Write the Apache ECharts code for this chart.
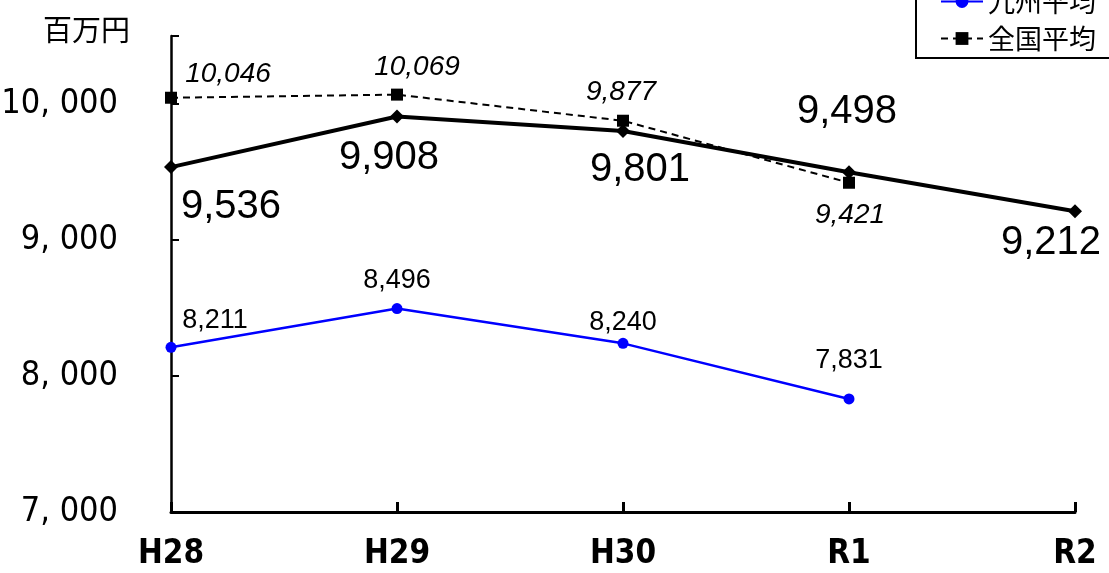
<!DOCTYPE html>
<html>
<head>
<meta charset="utf-8">
<script src="https://cdn.jsdelivr.net/npm/echarts@6/dist/echarts.min.js"></script>
<style>
  html, body { margin: 0; padding: 0; background: #fff; }
  #main { width: 1109px; height: 573px; }
</style>
</head>
<body>
<div id="main"></div>
<script>
// データ
var categories = ["H28", "H29", "H30", "R1", "R2"];
var cityValues = [9536, 9908, 9801, 9498, 9212];      // 太線（凡例は上で切れている）
var kyushuValues = [8211, 8496, 8240, 7831, null];    // 九州平均
var zenkokuValues = [10046, 10069, 9877, 9421, null]; // 全国平均
var yTicks = [7000, 8000, 9000, 10000];

// ラベルの位置（点からのずれ）
var cityOffsets = [[60, 40], [-8, 41], [17, 39], [-2, -60], [-24, 32]];
var kyushuOffsets = [[44, -27], [0, -28], [0, -21], [0, -38]];
var zenkokuOffsets = [[57, -24], [20, -27], [-2, -29], [1, 32]];

var CJK = '"Noto Sans CJK JP", sans-serif';
var NARROW = '"DejaVu Sans Condensed", "Noto Sans CJK JP", sans-serif';
var ARIAL = '"Liberation Sans", Arial, sans-serif';

function fmt(v) {
  return v.toLocaleString('en-US');
}

function withLabels(values, offsets) {
  return values.map(function (v, i) {
    if (v == null) return null;
    return { value: v, label: { offset: offsets[i] } };
  });
}

var chart = echarts.init(document.getElementById('main'), null, { renderer: 'canvas' });

var option = {
  animation: false,
  backgroundColor: '#fff',
  title: {
    text: '百万円',
    left: 38,
    top: 10,
    textStyle: { fontFamily: CJK, fontSize: 29, fontWeight: 'normal', color: '#000' }
  },
  legend: {
    data: ['九州平均', '全国平均'],
    orient: 'vertical',
    left: 916,
    top: -20,
    padding: [8, 30, 6, 24],
    itemGap: 10,
    itemWidth: 42,
    itemHeight: 16,
    borderColor: '#000',
    borderWidth: 2,
    borderRadius: 0,
    textStyle: { fontFamily: CJK, fontSize: 27, color: '#000' }
  },
  grid: { left: 171, right: 34, top: 36, bottom: 61, containLabel: false, outerBoundsMode: 'none' },
  xAxis: {
    type: 'category',
    data: categories,
    boundaryGap: false,
    axisLine: { lineStyle: { color: '#000', width: 3 } },
    axisTick: { show: true, inside: true, length: 10, lineStyle: { color: '#000', width: 3 } },
    axisLabel: {
      margin: 26,
      color: '#000',
      fontFamily: NARROW,
      fontWeight: 'bold',
      fontSize: 33
    }
  },
  yAxis: {
    type: 'value',
    min: 7000,
    max: 10500,
    interval: 1000,
    splitLine: { show: false },
    axisTick: { show: true, inside: true, length: 8, lineStyle: { color: '#000', width: 2 } },
    axisLine: { show: true, lineStyle: { color: '#000', width: 2.5 } },
    axisLabel: {
      margin: 53,
      color: '#000',
      fontFamily: NARROW,
      fontSize: 34,
      formatter: function (v) {
        if (yTicks.indexOf(v) < 0) return '';
        return fmt(v).replace(',', ', ');
      }
    }
  },
  series: [
    {
      name: '全国平均',
      type: 'line',
      data: withLabels(zenkokuValues, zenkokuOffsets),
      symbol: 'rect',
      symbolSize: 12,
      color: '#000',
      lineStyle: { color: '#000', width: 2, type: [7, 5] },
      itemStyle: { color: '#000' },
      label: {
        show: true,
        position: 'inside',
        fontFamily: ARIAL,
        fontStyle: 'italic',
        fontSize: 28,
        color: '#000',
        formatter: function (p) { return fmt(p.value); }
      },
      z: 2
    },
    {
      name: '九州平均',
      type: 'line',
      data: withLabels(kyushuValues, kyushuOffsets),
      symbol: 'circle',
      symbolSize: 11,
      color: '#0000ff',
      lineStyle: { color: '#0000ff', width: 2.5 },
      itemStyle: { color: '#0000ff' },
      label: {
        show: true,
        position: 'inside',
        fontFamily: ARIAL,
        fontSize: 27,
        color: '#000',
        formatter: function (p) { return fmt(p.value); }
      },
      z: 3
    },
    {
      name: '市',
      type: 'line',
      data: withLabels(cityValues, cityOffsets),
      symbol: 'diamond',
      symbolSize: 14,
      color: '#000',
      lineStyle: { color: '#000', width: 4 },
      itemStyle: { color: '#000' },
      label: {
        show: true,
        position: 'inside',
        fontFamily: ARIAL,
        fontSize: 40,
        color: '#000',
        formatter: function (p) { return fmt(p.value); }
      },
      z: 4
    }
  ]
};

chart.setOption(option);
</script>
</body>
</html>
